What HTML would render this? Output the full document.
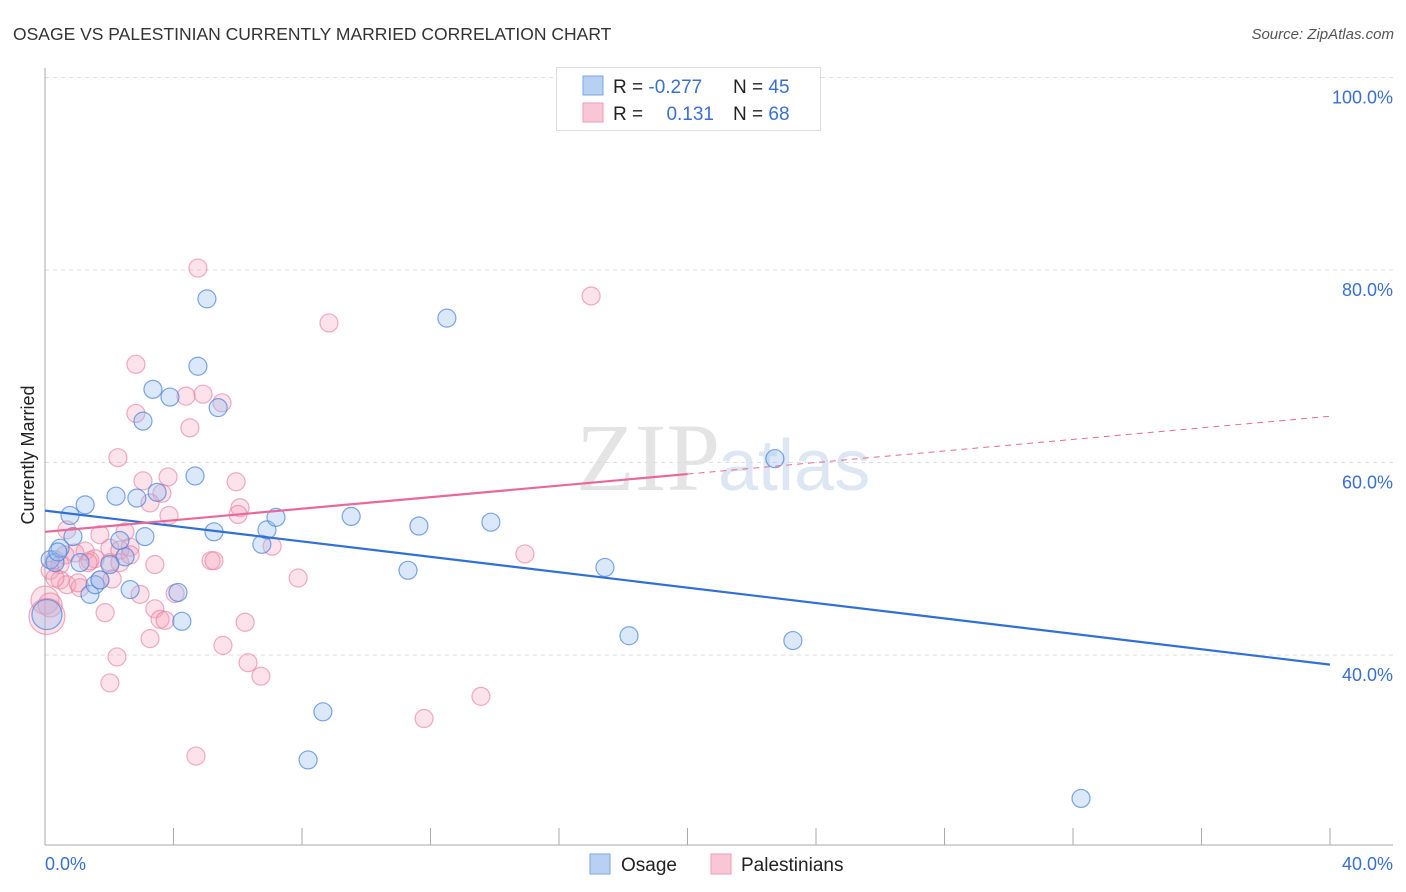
<!DOCTYPE html>
<html><head><meta charset="utf-8"><style>
body{margin:0;background:#fff;font-family:"Liberation Sans",sans-serif;}
#wrap{position:relative;width:1406px;height:892px;overflow:hidden;}
</style></head><body>
<div id="wrap">
<svg id="chart" width="1406" height="892">
<text x="13" y="40" font-size="17.5" fill="#333">OSAGE VS PALESTINIAN CURRENTLY MARRIED CORRELATION CHART</text>
<text x="1394" y="39" font-size="15" fill="#555" font-style="italic" text-anchor="end">Source: ZipAtlas.com</text>
<text x="720" y="490" font-size="96" fill="#e4e4e4" font-family="Liberation Serif,serif" text-anchor="end">ZIP</text>
<text x="718" y="490" font-size="72" fill="#dde6f3" text-anchor="start">atlas</text>
<g id="grid"></g>
<g id="axes"></g>
<g id="pts"></g>
<g id="trends"></g>
<text transform="translate(34,455) rotate(-90)" font-size="18" fill="#222" text-anchor="middle">Currently Married</text>
<text x="45" y="870" font-size="18" fill="#3a6fd0">0.0%</text>
<text x="1393" y="870" font-size="18" fill="#3a6fd0" text-anchor="end">40.0%</text>
<g>
<rect x="556.5" y="67.5" width="264" height="63" fill="#fff" stroke="#ddd"/>
<rect x="583" y="76" width="20" height="19" fill="#b8d1f3" stroke="#7aa6e6"/>
<rect x="583" y="103" width="20" height="19" fill="#f9c6d5" stroke="#ee9ab4"/>
<text x="613" y="93" font-size="19" fill="#222">R = <tspan fill="#3a6fd0">-0.277</tspan></text>
<text x="733" y="93" font-size="19" fill="#222">N = <tspan fill="#3a6fd0">45</tspan></text>
<text x="613" y="120" font-size="19" fill="#222">R = </text>
<text x="714" y="120" font-size="19" fill="#3a6fd0" text-anchor="end">0.131</text>
<text x="733" y="120" font-size="19" fill="#222">N = <tspan fill="#3a6fd0">68</tspan></text>
</g>
<g>
<rect x="590" y="854" width="20" height="20" fill="#b8d1f3" stroke="#7aa6e6"/>
<text x="621" y="871" font-size="19" fill="#222">Osage</text>
<rect x="711" y="854" width="20" height="20" fill="#f9c6d5" stroke="#ee9ab4"/>
<text x="741" y="871" font-size="19" fill="#222">Palestinians</text>
</g>
</svg>
</div>
<script>
const yTicks=[40,60,80,100];
const yTickLabels=["40.0%","60.0%","80.0%","100.0%"];
const xTicks=[0,4,8,12,16,20,24,28,32,36,40];
const osageX=[0.78,1.25,0.87,1.09,1.40,1.56,1.71,2.21,2.33,2.49,2.65,2.86,3.11,3.05,3.36,3.49,3.89,4.14,4.26,4.67,4.76,5.04,5.39,5.26,6.75,6.91,7.19,8.65,8.19,9.53,11.30,11.64,12.51,13.88,17.43,18.18,22.72,23.28,32.25,0.16,0.31,0.06,2.02,0.47,0.40];
const osageY=[54.5,55.6,52.3,49.6,46.3,47.3,47.8,56.5,51.9,50.2,46.8,56.3,52.3,64.3,67.6,56.9,66.8,46.5,43.5,58.6,70.0,77.0,65.7,52.8,51.5,53.0,54.3,34.1,29.1,54.4,48.8,53.4,75.0,53.8,49.1,42.0,60.4,41.5,25.1,49.9,49.6,44.2,49.4,51.1,50.7];
const osageR=[9,9,9,9,9,9,9,9,9,9,9,9,9,9,9,9,9,9,9,9,9,9,9,9,9,9,9,9,9,9,9,9,9,9,9,9,9,9,9,9,9,15,9,9,9];
const palX=[4.76,17.0,8.84,2.83,4.92,4.39,5.51,2.83,4.51,2.27,3.83,3.05,5.95,3.64,3.27,3.86,6.07,6.01,0.68,1.71,2.49,2.65,2.02,2.33,1.25,0.93,0.62,1.56,1.40,2.02,2.33,0.31,0.47,14.94,7.07,5.17,5.26,3.42,0.16,0.47,0.68,1.71,2.09,1.09,2.96,4.05,3.42,1.87,3.58,3.74,6.23,3.27,5.54,2.24,6.32,6.72,2.02,13.57,11.80,4.70,7.88,0,0.16,0.06,0.31,1.03,1.34,2.65];
const palY=[80.2,77.3,74.5,70.2,67.1,66.9,66.2,65.1,63.6,60.5,58.5,58.1,58.0,56.8,55.8,54.5,55.3,54.6,53.0,52.5,52.8,51.2,51.1,50.9,50.8,50.6,50.4,50.0,49.8,49.6,49.6,49.9,49.4,50.5,51.3,49.8,49.8,49.4,48.8,47.8,47.3,47.8,47.9,47.0,46.3,46.4,44.8,44.4,43.7,43.6,43.4,41.7,41.0,39.8,39.2,37.8,37.1,35.7,33.4,29.5,48.0,45.7,45.2,44.0,48.0,47.5,49.6,50.4];
const palR=[9,9,9,9,9,9,9,9,9,9,9,9,9,9,9,9,9,9,9,9,9,9,9,9,9,9,9,9,9,9,9,9,9,9,9,9,9,9,9,9,9,9,9,9,9,9,9,9,9,9,9,9,9,9,9,9,9,9,9,9,9,14,12,18,9,9,9,9];
const osageTrend=[55.0,39.0];
const palTrend=[52.8,64.8];
const palSolidEnd=20;

const X=v=>45+v/40*1285;
const Y=v=>655-(v-40)/20*192.5;
const NS="http://www.w3.org/2000/svg";
function mk(tag,attrs,parent){const e=document.createElementNS(NS,tag);for(const k in attrs)e.setAttribute(k,attrs[k]);parent.appendChild(e);return e;}
const grid=document.getElementById('grid'),axes=document.getElementById('axes'),pts=document.getElementById('pts'),tr=document.getElementById('trends');
yTicks.forEach((t,i)=>{
 const l=mk('line',{x1:45,x2:1393,y1:Y(t),y2:Y(t),stroke:'#ddd','stroke-dasharray':'4,4'},grid);
 
 
 const tx=mk('text',{x:1393,y:Y(t)+26,'font-size':18,fill:'#3a6fd0','text-anchor':'end'},grid);
 tx.textContent=yTickLabels[i];
 
 
});
const ya=mk('line',{x1:45,x2:45,y1:68,y2:845,stroke:'#aaa'},axes);


const xa=mk('line',{x1:45,x2:1393,y1:845,y2:845,stroke:'#aaa'},axes);


xTicks.forEach(t=>{
 const l=mk('line',{x1:X(t),x2:X(t),y1:828,y2:845,stroke:'#aaa'},axes);
 
 
});
palX.forEach((v,i)=>{
 const c=mk('circle',{cx:X(v),cy:Y(palY[i]),r:palR[i],fill:'rgba(244,160,186,0.3)',stroke:'rgba(232,120,155,0.6)','stroke-width':1.2},pts);
 
 
});
osageX.forEach((v,i)=>{
 const c=mk('circle',{cx:X(v),cy:Y(osageY[i]),r:osageR[i],fill:'rgba(150,188,240,0.35)',stroke:'rgba(70,130,220,0.7)','stroke-width':1.2},pts);
 
 
});
const bl=mk('line',{x1:X(0),y1:Y(osageTrend[0]),x2:X(40),y2:Y(osageTrend[1]),stroke:'#2f6fd6','stroke-width':2.2},tr);


const pm=palTrend[0]+(palTrend[1]-palTrend[0])*palSolidEnd/40;
const pl=mk('line',{x1:X(0),y1:Y(palTrend[0]),x2:X(palSolidEnd),y2:Y(pm),stroke:'#e8689a','stroke-width':2.2},tr);


const pd=mk('line',{x1:X(palSolidEnd),y1:Y(pm),x2:X(40),y2:Y(palTrend[1]),stroke:'#e8689a','stroke-width':1,'stroke-dasharray':'6,5'},tr);


</script>
</body></html>
